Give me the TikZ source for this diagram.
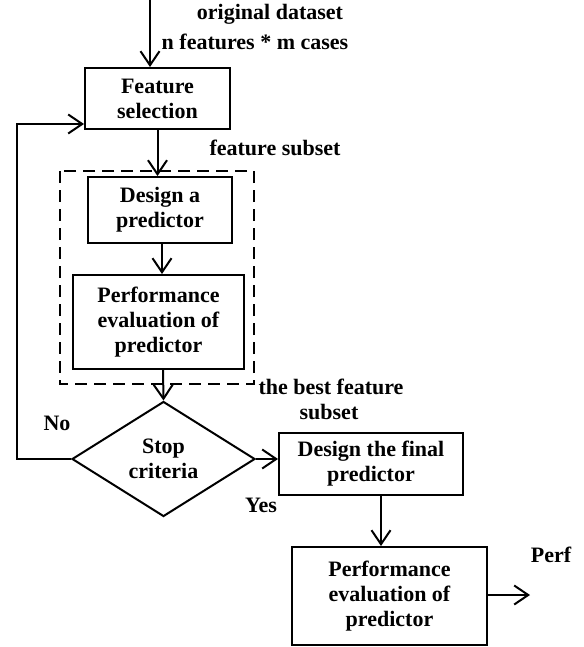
\documentclass[tikz,border=0pt]{standalone}
\usepackage{fontspec}
\setmainfont{Liberation Serif}
\usetikzlibrary{arrows.meta,shapes.geometric}
\tikzset{
  >={Straight Barb[length=14pt,width=19pt]},
  flow/.style={line width=2pt,->},
  stepbox/.style={draw,line width=2pt,rectangle,align=center,inner sep=0pt,
    font=\bfseries\fontsize{22}{25}\selectfont},
  decision/.style={draw,line width=2pt,diamond,align=center,inner sep=0pt,
    font=\bfseries\fontsize{22}{25}\selectfont},
  note/.style={align=center,inner sep=0pt,font=\bfseries\fontsize{22}{25}\selectfont},
}
\begin{document}
\begin{tikzpicture}[x=1pt,y=-1pt]
\useasboundingbox (0,0) rectangle (583,647);

% process boxes
\node[stepbox,minimum width=145pt,minimum height=61pt] (fs) at (157.5,98.5) {Feature\\selection};
\node[stepbox,minimum width=144pt,minimum height=66pt] (dp) at (160,210) {Design a\\predictor};
\node[stepbox,minimum width=171pt,minimum height=94pt] (pe) at (158.5,322) {Performance\\evaluation of\\predictor};
\node[decision,minimum width=183pt,minimum height=115pt] (stop) at (163.5,459) {Stop\\criteria};
\node[stepbox,minimum width=184pt,minimum height=62pt] (fp) at (371,464) {Design the final\\predictor};
\node[stepbox,minimum width=195pt,minimum height=98pt] (pe2) at (389.5,596) {Performance\\evaluation of\\predictor};

% dashed group around the inner evaluation loop
\draw[line width=2pt,dash pattern=on 12pt off 7pt] (60,171) rectangle (254,384);

% labels
\node[note] (l1) at (270,14) {original dataset};
\node[note] (l2) at (255,42) {n features * m cases};
\node[note] (l3) at (275,148) {feature subset};
\node[note] (l4) at (331,387) {the best feature};
\node[note] (l5) at (329,412) {subset};
\node[note] (lno) at (57,423) {No};
\node[note] (lyes) at (261,505) {Yes};
\node[note] (lperf) at (551,555) {Perf};

% connectors
\coordinate (in) at (150,0);
\coordinate (loop) at (17,459);
\coordinate (out) at (530,595);
\draw[flow] (in) -- (in |- fs.north);
\draw[flow] (fs.south) -- (dp.north -| fs.south);
\draw[flow] ([xshift=2pt]dp.south) -- ([xshift=2pt]dp.south |- pe.north);
\draw[flow] ([xshift=4.5pt]pe.south) -- (stop.north);
\draw[flow] (stop.west) -- (loop) -- (loop |- 0,124) -- (fs.west |- 0,124);
\draw[flow] (stop.east) -- (stop.east -| fp.west);
\draw[flow] ([xshift=10pt]fp.south) -- ([xshift=10pt]fp.south |- pe2.north);
\draw[flow] (pe2.east |- out) -- (out);
\end{tikzpicture}
\end{document}
